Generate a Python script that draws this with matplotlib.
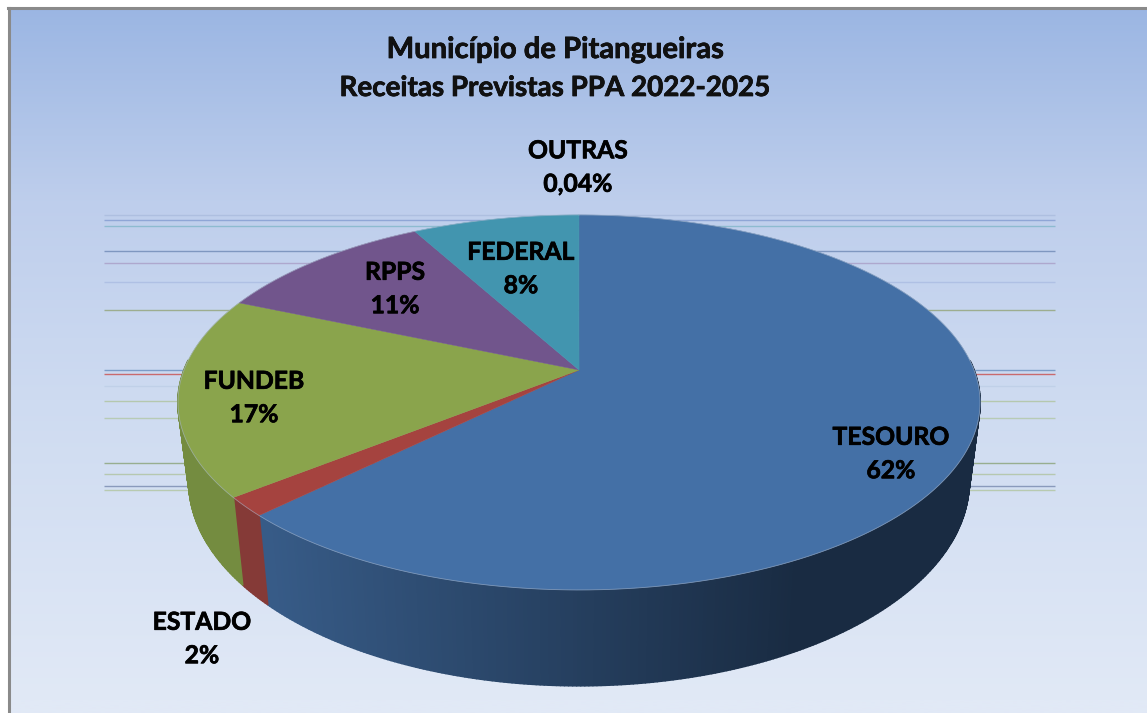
import matplotlib

matplotlib.use("Agg")
import matplotlib.pyplot as plt  # noqa: E402
import matplotlib.patheffects as pe  # noqa: E402
import numpy as np  # noqa: E402
from matplotlib.collections import PolyCollection  # noqa: E402
from matplotlib.colors import to_rgb  # noqa: E402

plt.rcParams["font.family"] = ["Lato", "DejaVu Sans"]

# slices, clockwise from 12 o'clock
names = ["TESOURO", "ESTADO", "FUNDEB", "RPPS", "FEDERAL", "OUTRAS"]
values = [62.6, 1.65, 17.2, 10.6, 7.91, 0.04]
pct_labels = ["62%", "2%", "17%", "11%", "8%", "0,04%"]
top_colors = ["#4470A6", "#A5433F", "#8AA44C", "#71558C", "#4295AF", "#4295AF"]
side_left = ["#375B87", "#853A37", "#748C40", "#5C4672", "#357A90", "#357A90"]
side_right = ["#192B42", "#853A37", "#748C40", "#5C4672", "#357A90", "#357A90"]
label_x = [891, 202, 254, 395, 521, 578]
label_y = [454, 639, 398, 289, 269, 167.5]

# stray leader lines left behind in the source image
stray_y = [215, 220, 226, 251, 263, 282, 310, 370, 374, 386, 401, 418, 463, 474, 486, 490]
stray_c = ["#AEBFE0", "#8FA6D6", "#8DBBD0", "#7F97C0", "#AEA8CE", "#AFC0E4", "#9DAD8F", "#7C9CC8",
           "#C96A6E", "#C0D0E8", "#B5C8AE", "#B7CBB5", "#98AE90", "#B6C8B0", "#8A9ABC", "#B8CAB0"]

W, H = 1147, 713

# perspective model of the disc, in image pixels
CX, CY = 579, 370
A, B, K = 395, 181.9, 0.173
BOT_SX, BOT_SY, BOT_Y0 = 0.973, 1.09, 446


def top_rim(theta):
    u, v = np.sin(theta), np.cos(theta)
    d = 1 + K * v
    return CX + A * u / d, CY - B * v / d


def bottom_rim(theta):
    u, v = np.sin(theta), np.cos(theta)
    d = 1 + K * v
    return CX + BOT_SX * A * u / d, BOT_Y0 - BOT_SY * B * v / d


fig = plt.figure(figsize=(W / 100, H / 100), dpi=100, facecolor="white")
ax = fig.add_axes([0, 0, 1, 1])
ax.set_xlim(0, W)
ax.set_ylim(H, 0)
ax.axis("off")

# background gradient, not quite linear in the source
rows = np.linspace(8, H, 512)
bg = np.stack([
    np.interp(rows, [8, 200, 400, 700], [155, 190, 206, 225]),
    np.interp(rows, [8, 200, 400, 700], [182, 206, 219, 233]),
    np.interp(rows, [8, 200, 400, 700], [227, 236, 241, 246]),
], axis=1)[:, None, :] / 255
ax.imshow(bg, extent=(8, W, H, 8), aspect="auto", zorder=0, interpolation="bilinear")
ax.plot([9, 9], [H, 8], color="#8A8A8A", lw=2.2, zorder=1)
ax.plot([8, W], [8, 8], color="#8A8A8A", lw=2.2, zorder=1)

ax.hlines(stray_y, 104, 1055, colors=stray_c, lw=1.0, zorder=1)

edges = np.radians(np.concatenate([[0], np.cumsum(values)]) * 3.6 * 100 / np.sum(values))

# side wall first, as many thin quads so the shading can run across it
quads, quad_cols = [], []
for i in range(len(values)):
    n = max(2, int(np.degrees(edges[i + 1] - edges[i]) * 2))
    ts = np.linspace(edges[i], edges[i + 1], n + 1)
    cl, cr = np.array(to_rgb(side_left[i])), np.array(to_rgb(side_right[i]))
    for t0, t1 in zip(ts[:-1], ts[1:]):
        if np.cos(t0) > 0.05:  # back half is hidden behind the top face
            continue
        x0, y0 = top_rim(t0)
        x1, y1 = top_rim(t1)
        x2, y2 = bottom_rim(t1)
        x3, y3 = bottom_rim(t0)
        quads.append([(x0, y0), (x1, y1), (x2, y2), (x3, y3)])
        f = np.clip((x0 - 268) / (800 - 268), 0, 1)
        quad_cols.append(cl + (cr - cl) * f)
ax.add_collection(PolyCollection(quads, facecolors=quad_cols, edgecolors=quad_cols, linewidths=1.2, zorder=2))

# top face
for i in range(len(values)):
    ts = np.linspace(edges[i], edges[i + 1], 200)
    xs, ys = top_rim(ts)
    ax.fill(np.r_[CX, xs], np.r_[CY, ys], color=top_colors[i], lw=0.3, zorder=3)
rim_x, rim_y = top_rim(np.linspace(0, 2 * np.pi, 720))
ax.plot(rim_x, rim_y, color="#A9B8CE", lw=0.6, alpha=0.6, zorder=4)

heavy = [pe.withStroke(linewidth=0.5, foreground="black")]
for name, pct, x, y in zip(names, pct_labels, label_x, label_y):
    ax.text(x, y, f"{name}\n{pct}", ha="center", va="center", fontsize=17.8, fontweight="bold",
            color="black", linespacing=1.55, zorder=5, path_effects=heavy)

ax.text(555, 50, "Município de Pitangueiras", ha="center", va="center",
        fontsize=21, fontweight="bold", color="#111111", zorder=5, path_effects=heavy)
ax.text(555, 88, "Receitas Previstas PPA 2022-2025", ha="center", va="center",
        fontsize=20, fontweight="bold", color="#111111", zorder=5, path_effects=heavy)

fig.savefig("out.png", dpi=100)
plt.close(fig)
